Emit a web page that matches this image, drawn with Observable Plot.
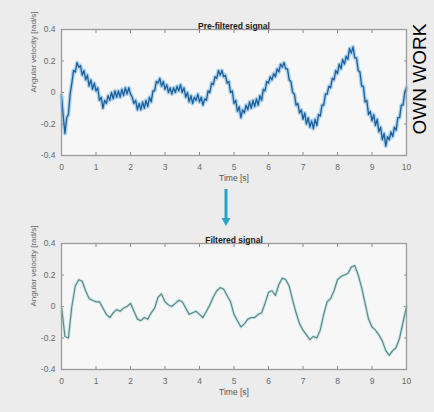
<!DOCTYPE html>
<html>
<head>
<meta charset="utf-8">
<script src="https://cdn.jsdelivr.net/npm/d3@7"></script>
<script src="https://cdn.jsdelivr.net/npm/@observablehq/plot@0.6"></script>
<style>
  html, body { margin: 0; padding: 0; background: #ececec; }
  #wrap { position: relative; width: 434px; height: 412px; overflow: hidden; background: #ececec; }
  .panel { position: absolute; left: 0; }
  #own { position: absolute; left: 420px; top: 79px; transform: translate(-50%, -50%) rotate(-90deg);
         font-family: "Liberation Sans", Arial, sans-serif; font-size: 19px; color: #000; white-space: nowrap; }
  #arrow { position: absolute; left: 0; top: 0; }
</style>
</head>
<body>
<div id="wrap">
  <div class="panel" id="p1" style="top:0px"></div>
  <div class="panel" id="p2" style="top:214px"></div>
  <svg id="arrow" width="434" height="412">
    <line x1="226" y1="189" x2="226" y2="219" stroke="#2aa2c4" stroke-width="3"/>
    <polygon points="221.5,218 230.5,218 226,226" fill="#2aa2c4"/>
  </svg>
  <div id="own">OWN WORK</div>
</div>
<script>
// ---- data ----
const xTicks = [0, 1, 2, 3, 4, 5, 6, 7, 8, 9, 10];
const yTicks = [-0.4, -0.2, 0, 0.2, 0.4];
const yTickLabels = ["-0.4", "-0.2", "0", "0.2", "0.4"];
const titles = ["Pre-filtered signal", "Filtered signal"];
const xLabel = "Time [s]";
const yLabel = "Angular velocity [rad/s]";

// pre-filtered signal, sampled every 0.05 s (0..10 s)
const preValues = [
  -0.02, -0.15, -0.26, -0.16, -0.14, -0.01, 0.06, 0.14, 0.13, 0.19,
  0.16, 0.17, 0.11, 0.14, 0.08, 0.11, 0.04, 0.08, 0.02, 0.06,
  0.01, 0.03, -0.05, -0.03, -0.10, -0.05, -0.07, -0.02, -0.05, 0.00,
  -0.04, 0.01, -0.03, 0.01, -0.03, 0.02, -0.02, 0.03, -0.01, 0.03,
  -0.01, -0.03, -0.07, -0.05, -0.11, -0.07, -0.11, -0.06, -0.10, -0.05,
  -0.09, -0.03, -0.06, 0.01, 0.01, 0.07, 0.06, 0.09, 0.04, 0.07,
  0.02, 0.05, 0.00, 0.03, -0.01, 0.03, 0.00, 0.04, 0.01, 0.05,
  0.00, 0.03, -0.03, 0.00, -0.06, -0.02, -0.07, -0.03, -0.05, -0.01,
  -0.06, -0.03, -0.08, -0.04, -0.05, 0.01, 0.00, 0.06, 0.05, 0.10,
  0.09, 0.14, 0.11, 0.14, 0.10, 0.11, 0.06, 0.07, 0.00, 0.01,
  -0.07, -0.05, -0.12, -0.09, -0.16, -0.11, -0.13, -0.08, -0.11, -0.06,
  -0.10, -0.05, -0.09, -0.04, -0.08, -0.02, -0.05, 0.02, 0.01, 0.07,
  0.06, 0.10, 0.08, 0.12, 0.10, 0.15, 0.13, 0.18, 0.16, 0.19,
  0.15, 0.15, 0.08, 0.07, 0.00, -0.01, -0.08, -0.07, -0.13, -0.11,
  -0.17, -0.13, -0.20, -0.16, -0.22, -0.18, -0.23, -0.17, -0.21, -0.14,
  -0.15, -0.08, -0.08, -0.01, -0.01, 0.04, 0.03, 0.09, 0.08, 0.14,
  0.12, 0.18, 0.15, 0.21, 0.18, 0.23, 0.21, 0.28, 0.25, 0.29,
  0.22, 0.22, 0.14, 0.13, 0.04, 0.04, -0.06, -0.05, -0.14, -0.12,
  -0.18, -0.14, -0.21, -0.17, -0.25, -0.22, -0.30, -0.26, -0.34, -0.28,
  -0.30, -0.25, -0.28, -0.22, -0.24, -0.16, -0.16, -0.08, -0.08, 0.00,
  0.03
];
const preStep = 0.05;

// filtered signal, sampled every 0.1 s (0..10 s)
const filtValues = [
  0.00, -0.19, -0.20, 0.00, 0.13, 0.17, 0.16, 0.10, 0.05, 0.04,
  0.03, 0.03, -0.01, -0.05, -0.07, -0.04, -0.02, -0.03, -0.01, 0.00,
  0.02, -0.03, -0.08, -0.09, -0.07, -0.08, -0.04, -0.01, 0.06, 0.08,
  0.03, 0.01, 0.00, 0.02, 0.04, 0.03, -0.01, -0.05, -0.04, -0.03,
  -0.05, -0.07, -0.03, 0.01, 0.06, 0.10, 0.12, 0.11, 0.07, 0.03,
  -0.05, -0.09, -0.13, -0.11, -0.08, -0.07, -0.07, -0.05, -0.04, 0.02,
  0.09, 0.10, 0.07, 0.14, 0.18, 0.17, 0.13, 0.04, -0.04, -0.11,
  -0.15, -0.18, -0.21, -0.19, -0.20, -0.15, -0.05, 0.03, 0.05, 0.10,
  0.17, 0.19, 0.20, 0.21, 0.25, 0.26, 0.20, 0.12, 0.02, -0.08,
  -0.13, -0.15, -0.18, -0.22, -0.28, -0.31, -0.28, -0.26, -0.20, -0.10,
  0.00
];
const filtStep = 0.1;

const preData = preValues.map((v, i) => ({t: i * preStep, v}));
const filtData = filtValues.map((v, i) => ({t: i * filtStep, v}));

const yFmt = new Map(yTicks.map((t, i) => [t, yTickLabels[i]]));

function panel(title, lineMarks) {
  return Plot.plot({
    width: 434, height: 200,
    marginLeft: 61, marginRight: 28, marginTop: 29, marginBottom: 45,
    style: {background: "transparent", fontFamily: "'Liberation Sans', Arial, sans-serif", fontSize: "8.5px", color: "#6a6a6a"},
    x: {domain: [0, 10]},
    y: {domain: [-0.4, 0.4]},
    marks: [
      Plot.frame({fill: "#f7f7f7"}),
      Plot.axisX(xTicks, {anchor: "bottom", tickSize: -3, tickPadding: 11, stroke: "#888", label: null}),
      Plot.axisX(xTicks, {anchor: "top", tickSize: -3, tickFormat: () => "", stroke: "#888", label: null}),
      Plot.axisY(yTicks, {anchor: "left", tickSize: -3, tickPadding: 9, stroke: "#888", tickFormat: d => yFmt.get(d), label: null}),
      Plot.axisY(yTicks, {anchor: "right", tickSize: -3, tickFormat: () => "", stroke: "#888", label: null}),
      ...lineMarks,
      Plot.frame({stroke: "#9a9a9a", strokeWidth: 1.3}),
      Plot.text([title], {frameAnchor: "top", dy: -7, fontWeight: "bold", fontSize: 8.5, fill: "#1a1a1a"}),
      Plot.text([xLabel], {frameAnchor: "bottom", dy: 25, fontSize: 8.5, fill: "#555"}),
      Plot.text([yLabel], {frameAnchor: "left", dx: -28, rotate: -90, fontSize: 8, fill: "#666"})
    ]
  });
}

document.getElementById("p1").append(panel(titles[0], [
  Plot.line(preData, {x: "t", y: "v", stroke: "#6aaedc", strokeWidth: 4, strokeOpacity: 0.5}),
  Plot.line(preData, {x: "t", y: "v", stroke: "#1b5f9c", strokeWidth: 1.3})
]));
document.getElementById("p2").append(panel(titles[1], [
  Plot.line(filtData, {x: "t", y: "v", stroke: "#b3e0e0", strokeWidth: 3, strokeOpacity: 0.7}),
  Plot.line(filtData, {x: "t", y: "v", stroke: "#5e8888", strokeWidth: 1.2})
]));
</script>
</body>
</html>
